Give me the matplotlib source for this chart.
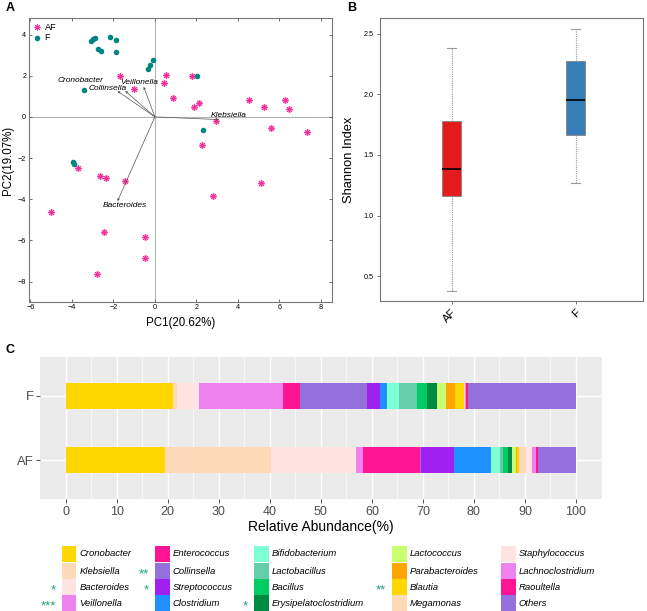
import matplotlib
matplotlib.use("Agg")
import numpy as np
import matplotlib.pyplot as plt
from matplotlib.patches import Rectangle

plt.rcParams["font.family"] = ["Liberation Sans", "DejaVu Sans"]

# ---- panel A: PCA scores and loadings ----
af_pc1 = [-1.67, 0.53, 1.77, 0.45, -1.03, 0.85, 1.87, 2.14, 4.52, 5.25, 6.26, 6.47,
          2.96, 5.62, 7.34, 2.29, -3.70, -2.66, -2.35, -1.45, 5.10, 2.80, -5.02,
          -2.43, -0.48, -0.48, -2.80]
af_pc2 = [2.00, 2.05, 2.00, 1.63, 1.34, 0.90, 0.47, 0.69, 0.81, 0.47, 0.82, 0.40,
          -0.21, -0.56, -0.73, -1.39, -2.48, -2.89, -2.98, -3.10, -3.19, -3.84, -4.63,
          -5.61, -5.84, -6.84, -7.65]
f_pc1 = [-3.09, -2.99, -2.90, -2.16, -1.88, -2.74, -2.62, -1.87, -0.11, -0.24, -0.35,
         2.03, -3.40, 2.30, -3.96, -3.91]
f_pc2 = [3.69, 3.76, 3.81, 3.89, 3.74, 3.29, 3.21, 3.15, 2.74, 2.53, 2.32,
         1.97, 1.31, -0.66, -2.19, -2.27]

load_names = ["Cronobacter", "Collinsella", "Veillonella", "Klebsiella", "Bacteroides"]
load_pc1 = [-1.80, -1.43, -0.54, 3.07, -1.80]
load_pc2 = [1.25, 1.26, 1.46, -0.13, -4.09]

# ---- panel B: Shannon index box stats ----
groups = ["AF", "F"]
whislo = [0.382, 1.269]
q1 = [1.165, 1.668]
med = [1.382, 1.953]
q3 = [1.780, 2.278]
whishi = [2.385, 2.538]
box_colors = ["#E41A1C", "#377EB8"]

# ---- panel C: relative abundance ----
genera = ["Cronobacter", "Klebsiella", "Bacteroides", "Veillonella", "Enterococcus",
          "Collinsella", "Streptococcus", "Clostridium", "Bifidobacterium", "Lactobacillus",
          "Bacillus", "Erysipelatoclostridium", "Lactococcus", "Parabacteroides", "Blautia",
          "Megamonas", "Staphylococcus", "Lachnoclostridium", "Raoultella", "Others"]
genus_colors = ["#FFD700", "#FFDAB9", "#FFE4E1", "#EE82EE", "#FF1493",
                "#9370DB", "#A020F0", "#1E90FF", "#7FFFD4", "#66CDAA",
                "#00CD66", "#008B45", "#CAFF70", "#FFA500", "#FFD700",
                "#FFDAB9", "#FFE4E1", "#EE82EE", "#FF1493", "#9370DB"]
abund_F = [21.1, 0.8, 4.2, 16.5, 3.3, 13.1, 2.6, 1.3, 2.4, 3.5,
           2.0, 2.0, 1.7, 1.8, 1.8, 0.1, 0.1, 0.1, 0.4, 21.2]
abund_AF = [19.5, 20.8, 16.5, 1.4, 11.2, 0.3, 6.3, 7.3, 1.9, 0.5,
            1.0, 0.8, 0.7, 0.2, 0.4, 1.5, 1.0, 0.9, 0.3, 7.5]
signif = {"Bacteroides": "*", "Veillonella": "***", "Collinsella": "**",
          "Streptococcus": "*", "Erysipelatoclostridium": "*", "Blautia": "**"}

W, H = 647, 611
fig = plt.figure(figsize=(W / 100, H / 100), dpi=100)


def box(l, t, r, b):
    return [l / W, 1 - b / H, (r - l) / W, (b - t) / H]


# ===== A =====
axA = fig.add_axes(box(29, 18.3, 332, 301.7))
axA.axhline(0, color="#B5B5B5", lw=0.8, zorder=0)
axA.axvline(0, color="#B5B5B5", lw=0.8, zorder=0)
axA.scatter(af_pc1, af_pc2, s=26, color="#FAC8E2", lw=0, zorder=2)
axA.scatter(af_pc1, af_pc2, s=14, marker=(8, 2, 0), color="#F0309A", lw=0.7,
            zorder=3, label="AF")
axA.scatter(f_pc1, f_pc2, s=16, color="#00857F", lw=0, zorder=3, label="F")

label_pos = {"Cronobacter": (-3.58, 1.75), "Collinsella": (-2.28, 1.38),
             "Veillonella": (-0.75, 1.67), "Klebsiella": (3.57, 0.08),
             "Bacteroides": (-1.43, -4.33)}
for n, x, y in zip(load_names, load_pc1, load_pc2):
    axA.annotate("", xy=(x, y), xytext=(0, 0),
                 arrowprops=dict(arrowstyle="-|>", lw=0.5, color="#555555",
                                 mutation_scale=3, shrinkA=0, shrinkB=0))
    axA.text(*label_pos[n], n, fontsize=6, style="italic", ha="center", va="center")

axA.set_xlim(-6.07, 8.54)
axA.set_ylim(-8.98, 4.79)
axA.set_xticks(np.arange(-6, 9, 2))
axA.set_yticks(np.arange(-8, 5, 2))
axA.tick_params(direction="in", length=2.5, width=0.6, labelsize=5.2, colors="#555555",
                labelcolor="black", top=True, right=True, pad=2)
for s in axA.spines.values():
    s.set_color("#777777")
    s.set_linewidth(0.8)
axA.set_xlabel("PC1(20.62%)", fontsize=8.3, labelpad=4)
axA.set_ylabel("PC2(19.07%)", fontsize=8.3, labelpad=3)
axA.legend(loc="upper left", frameon=False, fontsize=6.6, handlelength=0.8,
           handletextpad=0.4, labelspacing=0.15, borderaxespad=0.3, borderpad=0.2)

# ===== B =====
axB = fig.add_axes(box(380, 18.3, 643, 301))
stats = [dict(label=g, whislo=a, q1=b, med=c, q3=d, whishi=e, fliers=[])
         for g, a, b, c, d, e in zip(groups, whislo, q1, med, q3, whishi)]
bp = axB.bxp(stats, positions=[1, 2], widths=0.15, patch_artist=True, showfliers=False,
             capwidths=0.07,
             boxprops=dict(edgecolor="#8A8A8A", lw=0.7),
             whiskerprops=dict(color="#9A9A9A", lw=0.8, ls=(0, (1, 1))),
             capprops=dict(color="#9A9A9A", lw=0.8),
             medianprops=dict(color="black", lw=1.2))
for patch, c in zip(bp["boxes"], box_colors):
    patch.set_facecolor(c)
axB.set_xlim(0.422, 2.543)
axB.set_ylim(0.296, 2.627)
axB.set_yticks([0.5, 1.0, 1.5, 2.0, 2.5])
axB.set_yticklabels([f"{v:.1f}" for v in [0.5, 1.0, 1.5, 2.0, 2.5]])
axB.tick_params(axis="y", length=2.5, width=0.6, labelsize=5.2, colors="#555555",
                labelcolor="black", pad=2)
axB.tick_params(axis="x", length=2.5, width=0.6, labelsize=8, colors="#555555",
                labelcolor="black", pad=2)
plt.setp(axB.get_xticklabels(), rotation=45, ha="right", rotation_mode="anchor")
for s in axB.spines.values():
    s.set_color("#777777")
    s.set_linewidth(0.8)
axB.set_ylabel("Shannon Index", fontsize=9.3, labelpad=6)

# ===== C =====
axC = fig.add_axes(box(40.2, 357, 601.5, 499))
axC.set_facecolor("#EBEBEB")
ypos = [0, 1]
rows = [abund_AF, abund_F]
for yi, vals in zip(ypos, rows):
    left = np.concatenate([[0], np.cumsum(vals)[:-1]])
    axC.barh(yi, vals, left=left, height=0.4, color=genus_colors, lw=0, zorder=2)
axC.set_xlim(-5, 105)
axC.set_ylim(-0.6, 1.6)
axC.set_xticks(np.arange(0, 101, 10))
axC.set_xticks(np.arange(5, 100, 10), minor=True)
axC.set_yticks(ypos)
axC.set_yticklabels(["AF", "F"])
axC.grid(True, which="major", color="white", lw=1.0, zorder=0)
axC.grid(True, which="minor", axis="x", color="white", lw=0.5, zorder=0)
axC.set_axisbelow(True)
axC.tick_params(which="major", length=2.7, width=0.6, colors="#333333",
                labelcolor="#4D4D4D", labelsize=9, pad=2)
axC.tick_params(axis="y", labelsize=9.4)
axC.tick_params(which="minor", length=0)
for s in axC.spines.values():
    s.set_visible(False)
axC.set_xlabel("Relative Abundance(%)", fontsize=10, labelpad=2)

# legend for C, 5 columns x 4 rows
col_key_x = [62, 155, 254, 392, 501]
row_y = [554, 571, 587, 603]
kw, kh = 14.5, 15.5
for i, (g, c) in enumerate(zip(genera, genus_colors)):
    col, row = divmod(i, 4)
    x0, yc = col_key_x[col], row_y[row]
    fig.add_artist(Rectangle((x0 / W, 1 - (yc + kh / 2) / H), kw / W, kh / H,
                             transform=fig.transFigure, facecolor=c, edgecolor="none"))
    fig.text((x0 + kw + 3) / W, 1 - yc / H, g, fontsize=6.8, style="italic",
             ha="left", va="center")
    if g in signif:
        fig.text((x0 - 6) / W, 1 - (yc + 3) / H, signif[g], fontsize=9.5,
                 color="#21A083", ha="right", va="center")

# panel letters
fig.text(10 / W, 1 - 8 / H, "A", fontsize=9, fontweight="bold", ha="center", va="center")
fig.text(352 / W, 1 - 8 / H, "B", fontsize=9, fontweight="bold", ha="center", va="center")
fig.text(10 / W, 1 - 350 / H, "C", fontsize=9, fontweight="bold", ha="center", va="center")

fig.savefig("out.png", dpi=100)
